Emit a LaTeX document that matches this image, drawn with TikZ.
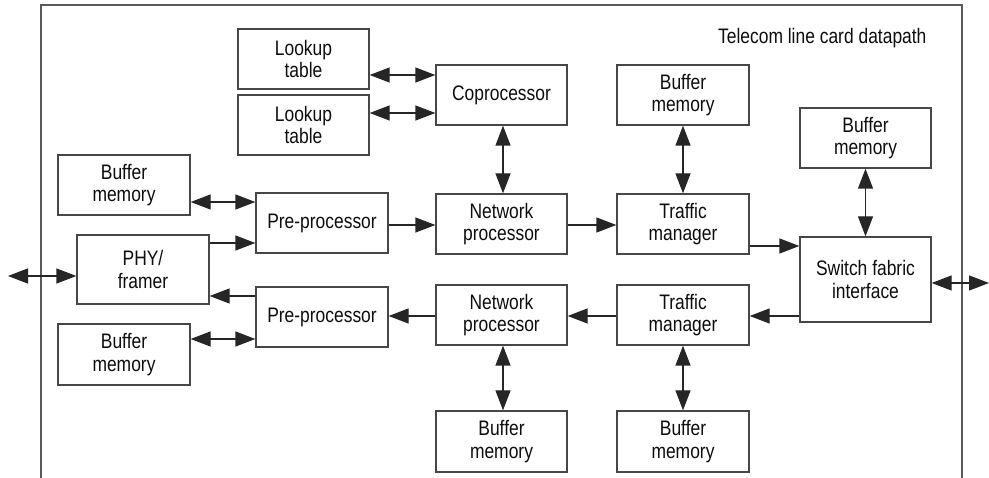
\documentclass[tikz,border=0pt]{standalone}
\usepackage{fontspec}
\setmainfont{Liberation Sans}[FakeStretch=0.83]
\usetikzlibrary{arrows.meta}
\begin{document}
\begin{tikzpicture}[x=1pt,y=-1pt,
  bx/.style={draw=black!72, line width=1.3pt, minimum width=131pt, minimum height=60pt,
    inner sep=0pt, align=center, font=\fontsize{21}{22.5}\selectfont, text=black!95},
  con/.style={draw=black!85, line width=1.3pt},
  one/.style={con, -{Triangle[length=20pt,width=15pt]}},
  two/.style={con, {Triangle[length=20pt,width=15pt]}-{Triangle[length=20pt,width=15pt]}},
  frm/.style={draw=black!65, line width=1.2pt}]
\useasboundingbox (0,0) rectangle (989,478);
\draw[frm] (41,478) -- (41,5) -- (962,5) -- (962,478);
\node[anchor=base east, font=\fontsize{21}{22.5}\selectfont, text=black!95] (title) at (930,44) {Telecom line card datapath};
% boxes
\node[bx] (lt1) at (303.5,59) {Lookup\\table};
\node[bx] (lt2) at (303.5,125) {Lookup\\table};
\node[bx, minimum width=132pt] (bmL1) at (124,185) {Buffer\\memory};
\node[bx, minimum width=132pt] (pre1) at (322,223) {Pre-processor};
\node[bx, minimum width=132pt, minimum height=69pt] (phy) at (143,269.5) {PHY/\\framer};
\node[bx, minimum width=132pt] (pre2) at (322,317) {Pre-processor};
\node[bx, minimum width=132pt, minimum height=61pt] (bmL2) at (124,354.5) {Buffer\\memory};
\node[bx] (cop) at (501.5,95) {Coprocessor};
\node[bx, minimum width=132pt] (bmT) at (683,95) {Buffer\\memory};
\node[bx] (bmR) at (865.5,138) {Buffer\\memory};
\node[bx] (np1) at (501.5,224) {Network\\processor};
\node[bx, minimum width=132pt] (tm1) at (683,224) {Traffic\\manager};
\node[bx, minimum height=85pt] (sw) at (865.5,279.5) {Switch fabric\\interface};
\node[bx] (np2) at (501.5,315) {Network\\processor};
\node[bx, minimum width=132pt] (tm2) at (683,315) {Traffic\\manager};
\node[bx, minimum height=61pt] (bmB1) at (501.5,441.5) {Buffer\\memory};
\node[bx, minimum width=132pt, minimum height=61pt] (bmB2) at (683,441.5) {Buffer\\memory};
\coordinate (extL) at (8,276);
\coordinate (extR) at (989,283);
% connectors
\draw[two] (lt1.east |- 0,75) -- (cop.west |- 0,75);
\draw[two] (lt2.east |- 0,113) -- (cop.west |- 0,113);
\draw[two] (cop.south -| 503,0) -- (np1.north -| 503,0);
\draw[two] (bmT.south) -- (tm1.north);
\draw[two] (bmR.south) -- (sw.north);
\draw[two] (bmL1.east |- 0,202) -- (pre1.west |- 0,202);
\draw[one] (phy.east |- 0,243) -- (pre1.west |- 0,243);
\draw[one] (pre2.west |- 0,296) -- (phy.east |- 0,296);
\draw[two] (bmL2.east |- 0,339) -- (pre2.west |- 0,339);
\draw[one] (pre1.east |- 0,225) -- (np1.west |- 0,225);
\draw[one] (np1.east |- 0,225) -- (tm1.west |- 0,225);
\draw[one] (tm1.east |- 0,246) -- (sw.west |- 0,246);
\draw[one] (sw.west |- 0,316) -- (tm2.east |- 0,316);
\draw[one] (tm2.west |- 0,316) -- (np2.east |- 0,316);
\draw[one] (np2.west |- 0,316) -- (pre2.east |- 0,316);
\draw[two] (np2.south -| 503,0) -- (bmB1.north -| 503,0);
\draw[two] (tm2.south) -- (bmB2.north);
\draw[two] (extL) -- (phy.west |- extL);
\draw[two] (sw.east |- extR) -- (extR);
\end{tikzpicture}
\end{document}
